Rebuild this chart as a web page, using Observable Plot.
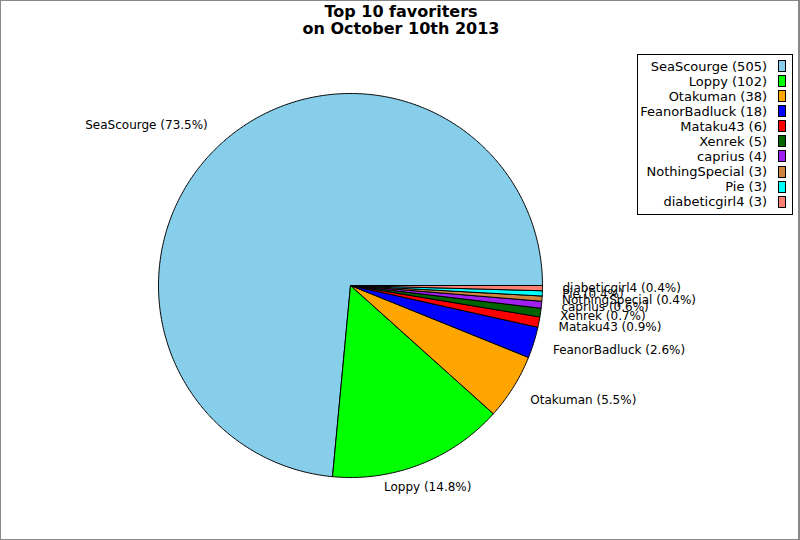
<!DOCTYPE html>
<html><head><meta charset="utf-8">
<script src="https://cdn.jsdelivr.net/npm/d3@7"></script>
<script src="https://cdn.jsdelivr.net/npm/@observablehq/plot@0.6"></script>
<style>
body{margin:0;background:#fff;font-family:"DejaVu Sans",sans-serif;}
#wrap{position:relative;width:800px;height:540px;overflow:hidden;background:#fff;}
#chart{position:absolute;left:0;top:0;}
#title{position:absolute;left:1px;top:3px;width:800px;text-align:center;font-weight:bold;font-size:16px;line-height:17px;color:#000;}
#legend{position:absolute;left:637px;top:54px;width:156px;height:161px;box-sizing:border-box;border:1px solid #000;background:#fff;}
.lt{position:absolute;right:25px;font-size:13px;line-height:15px;white-space:nowrap;color:#000;}
.ls{position:absolute;left:140px;width:8px;height:12px;box-sizing:border-box;border:1px solid #000;}
#border{position:absolute;left:0;top:0;width:800px;height:540px;box-sizing:border-box;border:1px solid #888;border-right-width:2px;pointer-events:none;}
</style>
</head><body>
<div id="wrap">
  <div id="chart"></div>
  <div id="title"></div>
  <div id="legend"></div>
  <div id="border"></div>
</div>
<script>
const titleLines = ["Top 10 favoriters", "on October 10th 2013"];
const names = ["SeaScourge","Loppy","Otakuman","FeanorBadluck","Mataku43","Xenrek","caprius","NothingSpecial","Pie","diabeticgirl4"];
const values = [505,102,38,18,6,5,4,3,3,3];
const colors = ["#87CEEB","#00FF00","#FFA500","#0000FF","#FF0000","#006400","#A020F0","#CD853F","#00FFFF","#FA8072"];

const total = d3.sum(values);
const pts = [];
const labels = [];
let acc = 0;
names.forEach((n, i) => {
  const a0 = acc / total * 2 * Math.PI;
  acc += values[i];
  const a1 = acc / total * 2 * Math.PI;
  const steps = Math.max(2, Math.ceil((a1 - a0) / (Math.PI / 360)));
  pts.push({name: n, x: 0, y: 0});
  for (let k = 0; k <= steps; k++) {
    const a = a0 + (a1 - a0) * k / steps;
    pts.push({name: n, x: Math.cos(a), y: Math.sin(a)});
  }
  pts.push({name: n, x: 0, y: 0});
  const m = (a0 + a1) / 2;
  const c = Math.cos(m), s = Math.sin(m);
  labels.push({
    text: `${n} (${(values[i] / total * 100).toFixed(1)}%)`,
    x: 1.104 * c, y: 1.13 * s,
    anchor: Math.abs(c) < 0.4 ? "middle" : (c > 0 ? "start" : "end")
  });
});

const R = 192, cx = 350, cy = 285;
const chart = Plot.plot({
  width: 800, height: 540,
  margin: 0,
  style: {fontFamily: "DejaVu Sans", background: "transparent"},
  x: {domain: [-cx / R, (800 - cx) / R], axis: null},
  y: {domain: [-(540 - cy) / R, cy / R], axis: null},
  color: {domain: names, range: colors},
  marks: [
    Plot.line(pts, {x: "x", y: "y", z: "name", fill: "name", stroke: "black", strokeWidth: 1, curve: "linear", strokeLinejoin: "round"}),
    ...["start", "middle", "end"].map(an =>
      Plot.text(labels.filter(d => d.anchor === an), {x: "x", y: "y", text: "text", textAnchor: an, fontSize: 12, fill: "black"}))
  ]
});
document.getElementById("chart").appendChild(chart);

document.getElementById("title").innerHTML = titleLines.join("<br>");

const leg = document.getElementById("legend");
names.forEach((n, i) => {
  const t = document.createElement("div");
  t.className = "lt";
  t.style.top = (3.5 + i * 15.08) + "px";
  t.textContent = `${n} (${values[i]})`;
  leg.appendChild(t);
  const sq = document.createElement("div");
  sq.className = "ls";
  sq.style.top = (5 + i * 15.08) + "px";
  sq.style.background = colors[i];
  leg.appendChild(sq);
});
</script>
</body></html>
